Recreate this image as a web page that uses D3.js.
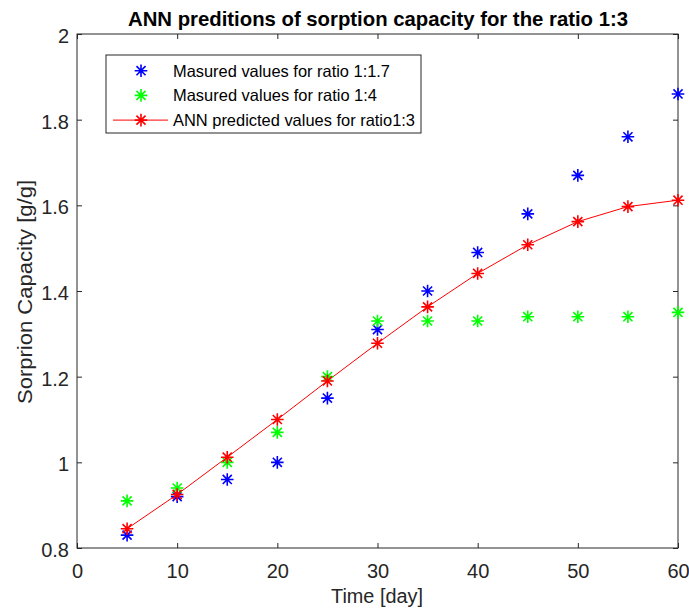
<!DOCTYPE html>
<html lang="en">
<head>
<meta charset="UTF-8">
<title>ANN predictions</title>
<script src="https://cdn.jsdelivr.net/npm/d3@7"></script>
<style>
    html, body { margin: 0; background: #fff; }
    svg { display: block; font-family: "Liberation Sans", Arial, sans-serif; }
</style>
</head>
<body>
<div id="vis"></div>
<script>
// data
var days = [5, 10, 15, 20, 25, 30, 35, 40, 45, 50, 55, 60];
var ratio17 = [0.83, 0.92, 0.96, 1.00, 1.15, 1.31, 1.40, 1.49, 1.58, 1.67, 1.76, 1.86];
var ratio4  = [0.91, 0.94, 1.00, 1.07, 1.20, 1.33, 1.33, 1.33, 1.34, 1.34, 1.34, 1.35];
var ann13   = [0.845, 0.925, 1.012, 1.10, 1.19, 1.278, 1.363, 1.441, 1.508, 1.562, 1.597, 1.612];
var xTicks = [0, 10, 20, 30, 40, 50, 60];
var yTicks = [0.8, 1, 1.2, 1.4, 1.6, 1.8, 2];

var W = 689, H = 614;
var margin = {top: 34, right: 11, bottom: 66, left: 77};
var width = W - margin.left - margin.right;
var height = H - margin.top - margin.bottom;
var axisCol = "#262626";

var svg = d3.select("#vis").append("svg")
    .attr("width", W).attr("height", H);
var g = svg.append("g")
    .attr("transform", "translate(" + margin.left + "," + margin.top + ")");

var x = d3.scaleLinear().domain([0, 60]).range([0, width]);
var y = d3.scaleLinear().domain([0.8, 2]).range([height, 0]);

function fmt(d) { return d3.format("")(+d.toFixed(1)); }

// axes with inward ticks on all four sides
function styleAxis(sel) {
    sel.select(".domain").remove();
    sel.selectAll("line").attr("stroke", axisCol);
    sel.selectAll("text").attr("fill", axisCol).attr("font-size", 20);
}
g.append("g").attr("transform", "translate(0," + height + ")")
    .call(d3.axisBottom(x).tickValues(xTicks).tickSize(-5).tickPadding(16).tickFormat(fmt))
    .call(styleAxis);
g.append("g")
    .call(d3.axisTop(x).tickValues(xTicks).tickSize(-5).tickFormat(""))
    .call(styleAxis);
g.append("g")
    .call(d3.axisLeft(y).tickValues(yTicks).tickSize(-5).tickPadding(8).tickFormat(fmt))
    .call(styleAxis)
    .selectAll("text").attr("dy", "0.42em");
g.append("g").attr("transform", "translate(" + width + ",0)")
    .call(d3.axisRight(y).tickValues(yTicks).tickSize(-5).tickFormat(""))
    .call(styleAxis);

g.append("rect")
    .attr("width", width).attr("height", height)
    .attr("fill", "none").attr("stroke", axisCol).attr("stroke-width", 1);

// asterisk marker like MATLAB '*'
function star(sel, cx, cy, color) {
    var r = 6.3, d = r * 0.72;
    var p = "M" + (cx - r) + "," + cy + "H" + (cx + r) +
            "M" + cx + "," + (cy - r) + "V" + (cy + r) +
            "M" + (cx - d) + "," + (cy - d) + "L" + (cx + d) + "," + (cy + d) +
            "M" + (cx - d) + "," + (cy + d) + "L" + (cx + d) + "," + (cy - d);
    sel.append("path").attr("d", p).attr("stroke", color)
        .attr("stroke-width", 1.6).attr("fill", "none");
}

var line = d3.line()
    .x(function(d, i) { return x(days[i]); })
    .y(function(d) { return y(d); });

g.append("path").datum(ann13)
    .attr("d", line).attr("fill", "none")
    .attr("stroke", "#ff0000").attr("stroke-width", 1);

var marks = g.append("g");
ratio17.forEach(function(v, i) { star(marks, x(days[i]), y(v), "#0000ff"); });
ratio4.forEach(function(v, i) { star(marks, x(days[i]), y(v), "#00ff00"); });
ann13.forEach(function(v, i) { star(marks, x(days[i]), y(v), "#ff0000"); });

// legend
var lg = svg.append("g").attr("transform", "translate(106,55)");
lg.append("rect").attr("width", 315).attr("height", 78)
    .attr("fill", "#fff").attr("stroke", axisCol).attr("stroke-width", 1);
var items = [
    {label: "Masured values for ratio 1:1.7", color: "#0000ff", line: false, len: 217},
    {label: "Masured values for ratio 1:4", color: "#00ff00", line: false, len: 204},
    {label: "ANN predicted values for ratio1:3", color: "#ff0000", line: true, len: 242}
];
items.forEach(function(it, i) {
    var cy = 15.7 + i * 24.7;
    if (it.line) {
        lg.append("line").attr("x1", 7).attr("x2", 62).attr("y1", cy).attr("y2", cy)
            .attr("stroke", it.color).attr("stroke-width", 1);
    }
    star(lg, 35, cy, it.color);
    lg.append("text").attr("x", 67).attr("y", cy + 6)
        .attr("font-size", 16.5).attr("fill", "#000")
        .attr("textLength", it.len).attr("lengthAdjust", "spacingAndGlyphs")
        .text(it.label);
});

// title and axis labels
svg.append("text").attr("x", 378).attr("y", 26)
    .attr("text-anchor", "middle").attr("font-size", 21).attr("font-weight", "bold")
    .attr("textLength", 500).attr("lengthAdjust", "spacingAndGlyphs")
    .attr("fill", "#000").text("ANN preditions of sorption capacity for the ratio 1:3");
svg.append("text").attr("x", 377).attr("y", 603)
    .attr("text-anchor", "middle").attr("font-size", 20).attr("fill", axisCol)
    .attr("textLength", 92).attr("lengthAdjust", "spacingAndGlyphs")
    .text("Time [day]");
svg.append("text")
    .attr("transform", "translate(32,292) rotate(-90)")
    .attr("text-anchor", "middle").attr("font-size", 20).attr("fill", axisCol)
    .attr("textLength", 224).attr("lengthAdjust", "spacingAndGlyphs")
    .text("Sorprion Capacity [g/g]");
</script>
</body>
</html>
